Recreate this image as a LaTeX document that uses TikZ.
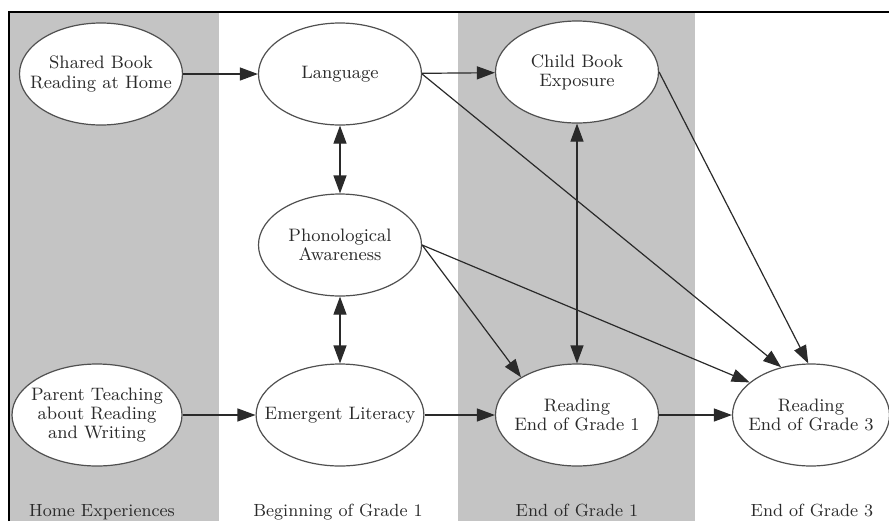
\documentclass[tikz,border=0pt]{standalone}
\usetikzlibrary{shapes.geometric,arrows.meta}

\definecolor{bandgray}{HTML}{C4C4C4}
\definecolor{ovalgray}{HTML}{505050}
\definecolor{inkgray}{HTML}{2A2A2A}

\tikzset{
  var/.style={ellipse, draw=ovalgray, fill=white, line width=0.6pt,
    minimum width=81.5pt, minimum height=51pt, inner sep=-8pt,
    align=center, text=inkgray, font=\fontsize{9}{9.6}\selectfont},
  period/.style={anchor=base, text=inkgray, font=\fontsize{8.8}{9.6}\selectfont},
  link/.style={-{Triangle[length=9pt,width=6.5pt]}, draw=inkgray, line width=0.6pt},
  both/.style={{Triangle[length=9pt,width=6.5pt]}-{Triangle[length=9pt,width=6.5pt]},
    draw=inkgray, line width=0.6pt}
}

\begin{document}
\begin{tikzpicture}[x=0.5pt, y=-0.5pt]
    \useasboundingbox (0,0) rectangle (889,521);
    % shaded time bands and frame
    \fill [bandgray] (9,12) rectangle (219,521);
    \fill [bandgray] (458,12) rectangle (695,521);
    \draw [line width=1pt] (9,521) -- (9,12) -- (889,12);

    \node [var] (shared) at (101,74) {Shared Book\\Reading at Home};
    \node [var, minimum width=85pt] (parent) at (97,415) {Parent Teaching\\about Reading\\and Writing};
    \node [var] (lang) at (340,74) {Language};
    \node [var] (phono) at (340,245) {Phonological\\Awareness};
    \node [var] (emerg) at (340,415) {Emergent Literacy};
    \node [var] (child) at (577,72) {Child Book\\Exposure};
    \node [var] (rg1) at (577,415) {Reading\\End of Grade 1};
    \node [var, minimum width=78.5pt] (rg3) at (811,415) {Reading\\End of Grade 3};

    \node [period] (home) at (102,516) {Home Experiences};
    \node [period] (beg1) at (338,516) {Beginning of Grade 1};
    \node [period] (end1) at (577,516) {End of Grade 1};
    \node [period] (end3) at (812,516) {End of Grade 3};

    \draw [link] (shared) -- (lang);
    \draw [link] (parent) -- (emerg);
    \draw [link] (lang) -- (child);
    \draw [link] (emerg) -- (rg1);
    \draw [link] (rg1) -- (rg3);
    \draw [both] (lang.south) -- (phono.north);
    \draw [both] (phono.south) -- (emerg.north);
    \draw [both] (child.south) -- (rg1.north);
    \draw [link] (lang.east) -- (rg3.122);
    \draw [link] (child.east) -- (rg3.93);
    \draw [link] (phono.east) -- (rg1.146);
    \draw [link] (phono.east) -- (rg3.152);
\end{tikzpicture}
\end{document}
